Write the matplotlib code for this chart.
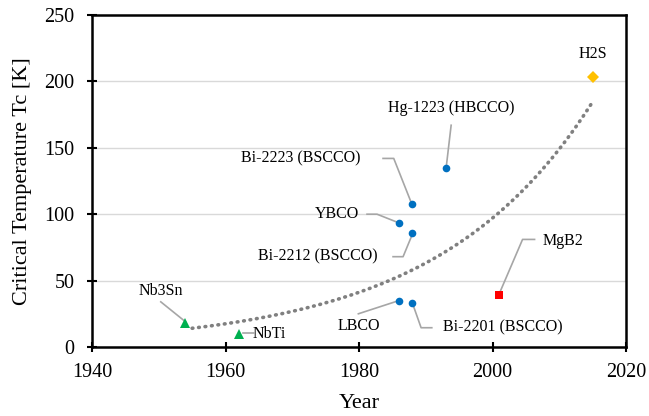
import numpy as np
import matplotlib
matplotlib.use("Agg")
import matplotlib.pyplot as plt

plt.rcParams['font.family'] = ['Liberation Serif', 'DejaVu Serif']

# Data
names = ["Nb3Sn", "NbTi", "LBCO", "Bi-2201 (BSCCO)", "YBCO", "Bi-2212 (BSCCO)",
         "Bi-2223 (BSCCO)", "Hg-1223 (HBCCO)", "MgB2", "H2S"]
years = [1954, 1962, 1986, 1988, 1986, 1988, 1988, 1993, 2001, 2015]
tc = [18, 10, 35, 33, 93, 86, 108, 135, 39, 203]
groups = ["low", "low", "cup", "cup", "cup", "cup", "cup", "cup", "mgb", "h2s"]

styles = {
    "low": dict(marker="^", color="#00B050", ms=7),
    "cup": dict(marker="o", color="#0070C0", ms=5.5),
    "mgb": dict(marker="s", color="#FF0000", ms=5.5),
    "h2s": dict(marker="D", color="#FFC000", ms=6),
}

# Label layout: text position (data coords) and leader path (data coords)
labels = {
    "Nb3Sn": ((1950.3, 42), [(1950.3, 34), (1954, 19)]),
    "NbTi": ((1964.0, 10), [(1962.6, 10.5), (1964.2, 10.5)]),
    "LBCO": ((1979.9, 16), [(1979.9, 25), (1985.7, 34.5)]),
    "Bi-2201 (BSCCO)": ((2001.6, 14.5), [(1988.0, 33), (1989.3, 14.5), (1990.9, 14.5)]),
    "YBCO": ((1976.7, 100), [(1981.2, 100), (1982.7, 100), (1985.7, 94)]),
    "Bi-2212 (BSCCO)": ((1973.9, 68), [(1985.1, 68), (1986.6, 68), (1988.0, 85)]),
    "Bi-2223 (BSCCO)": ((1971.2, 142), [(1983.6, 142), (1985.2, 142), (1987.8, 109)]),
    "Hg-1223 (HBCCO)": ((1993.8, 180), [(1993.8, 167), (1993.1, 137)]),
    "MgB2": ((2010.6, 80), [(2006.3, 81), (2004.5, 81), (2001.0, 40)]),
    "H2S": ((2015.0, 221), None),
}

fig = plt.figure(figsize=(6.49, 4.16), dpi=100)
ax = fig.add_axes([0.1418, 0.1659, 0.8228, 0.798])

for y in [50, 100, 150, 200]:
    ax.axhline(y, color="#D9D9D9", lw=1.0, zorder=0)

# exponential trendline fit
coef = np.polyfit(years, np.log(tc), 1)
xt = np.linspace(min(years) + 1, max(years), 200)
ax.plot(xt, np.exp(np.polyval(coef, xt)), color="#808080", lw=2.6,
        linestyle=(0, (0.2, 1.6)), dash_capstyle="round", zorder=2)

for n, x, y, g in zip(names, years, tc, groups):
    st = styles[g]
    ax.plot([x], [y], linestyle="none", marker=st["marker"], color=st["color"],
            markersize=st["ms"], markeredgewidth=0, zorder=4)
    (tx, ty), path = labels[n]
    ha = "left" if n in ("NbTi",) else "center"
    ax.text(tx, ty, n, ha=ha, va="center", fontsize=11.5, color="#000000")
    if path:
        px, py = zip(*path)
        ax.plot(px, py, color="#A6A6A6", lw=1.2, zorder=3)

ax.set_xlim(1940, 2020)
ax.set_ylim(0, 250)
ax.set_xticks(range(1940, 2021, 20))
ax.set_yticks(range(0, 251, 50))
ax.tick_params(direction="inout", length=7, width=1.5, labelsize=14.5)
ax.tick_params(axis="x", pad=8)
ax.tick_params(axis="y", pad=9)
for s in ax.spines.values():
    s.set_linewidth(1.8)
ax.set_xlabel("Year", fontsize=16, labelpad=9)
ax.set_ylabel("Critical Temperature Tc [K]", fontsize=16, labelpad=9)

fig.savefig("out.png", dpi=100)
